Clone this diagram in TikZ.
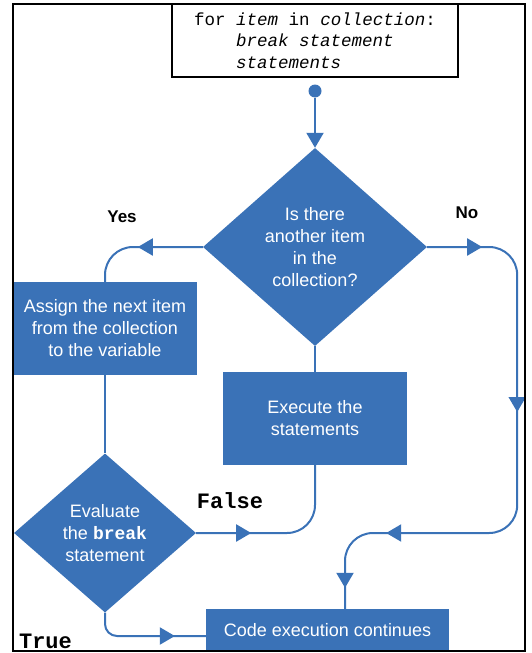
\documentclass[tikz,border=0pt]{standalone}
\usepackage{fontspec}
\setmainfont{Liberation Sans}
\setmonofont{Liberation Mono}
\usetikzlibrary{arrows.meta,shapes.geometric,decorations.markings}
\definecolor{flowblue}{RGB}{58,114,183}
\tikzset{
  blockbox/.style={rectangle, fill=flowblue, text=white, align=center, inner sep=0pt,
    font=\fontsize{18}{22}\selectfont},
  decide/.style={diamond, fill=flowblue, text=white, align=center, inner sep=0pt,
    font=\fontsize{18}{22}\selectfont},
  flow/.style={draw=flowblue, line width=2pt, rounded corners=28pt},
  midtip/.style={postaction={decorate, decoration={markings,
    mark=at position #1 with {\arrow{Triangle[length=15pt,width=17pt]}}}}},
  answer/.style={font=\bfseries\fontsize{17}{20}\selectfont},
  codelabel/.style={font=\ttfamily\bfseries\fontsize{22}{24}\selectfont}
}

\begin{document}
\begin{tikzpicture}[x=1pt, y=-1pt]
      \useasboundingbox (0,0) rectangle (531,653);
      % the loop header
      \node[draw, line width=1.2pt, minimum width=286pt, minimum height=73pt, align=left,
        font=\ttfamily\fontsize{17.5}{21.5}\selectfont] (code) at (315,40.5)
        {for \textit{item} in \textit{collection}:\\
         \phantom{for }\textit{break statement}\\
         \phantom{for }\textit{statements}};
      \node[circle, fill=flowblue, inner sep=0pt, minimum size=13pt] (start) at (315,91) {};

      % blocks
      \node[decide, minimum width=224pt, minimum height=198pt] (check) at (315,247)
        {Is there\\another item\\in the\\collection?};
      \node[blockbox, minimum width=184pt, minimum height=93pt] (assign) at (105,328.5)
        {Assign the next item\\from the collection\\to the variable};
      \node[blockbox, minimum width=184pt, minimum height=93pt] (exec) at (315,418.5)
        {Execute the\\statements};
      \node[decide, minimum width=182pt, minimum height=159pt] (eval) at (105,533)
        {Evaluate\\the \texttt{\bfseries break}\\statement};
      \node[blockbox, minimum width=243pt, minimum height=42pt] (cont) at (327.5,630)
        {Code execution continues};

      % labels
      \node[answer] (yes) at (122,217) {Yes};
      \node[answer] (no) at (467,213) {No};
      \node[codelabel] (false) at (230,501) {False};
      \node[codelabel] (true) at (45.5,641) {True};

      % connectors
      \draw[flow, -{Triangle[length=15pt,width=17pt]}] (start) -- (check.north);
      \draw[flow, midtip=65pt] (check.west) -| (assign.north);
      \draw[flow] (assign.south) -- (eval.north);
      \draw[flow] (check.south) -- (exec.north);
      \draw[flow, midtip=55pt] (eval.east) -| (exec.south);
      \draw[flow, midtip=55pt, midtip=243pt, midtip=483pt, midtip=567pt]
        (check.east) -| ++(90,286) -| ([xshift=17.5pt]cont.north);
      \draw[flow, rounded corners=12pt, midtip=88pt] (eval.south) |- ([yshift=-6pt]cont.west);

      \draw[line width=1.5pt] (13,4) rectangle (525,651);
\end{tikzpicture}
\end{document}
